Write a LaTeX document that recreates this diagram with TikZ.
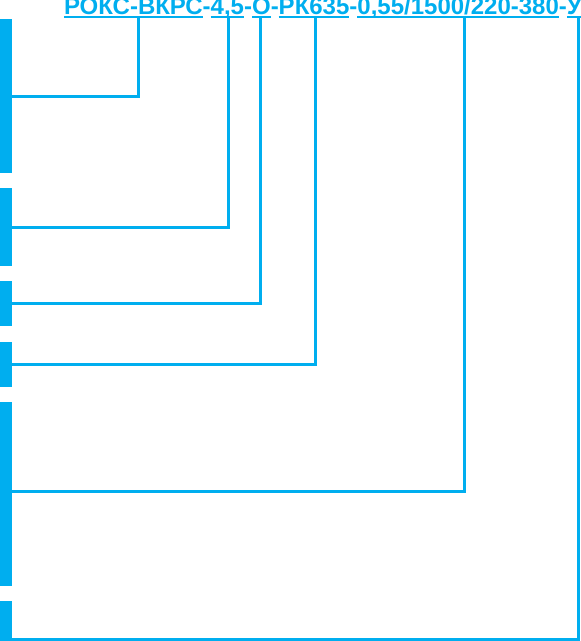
\documentclass[tikz,border=0pt]{standalone}
\usepackage{fontspec}
\setmainfont{Liberation Sans}
\definecolor{cy}{HTML}{00AEEF}
\begin{document}
\begin{tikzpicture}[x=1pt,y=-1pt,
  bar/.style={fill=cy,draw=none,minimum width=12pt,inner sep=0pt,outer sep=0pt,anchor=north west},
  txt/.style={text=cy,font=\fontsize{24}{25}\selectfont\bfseries,inner sep=0pt,outer sep=0pt,anchor=base west},
  ul/.style={draw=cy,line width=2pt},
  conn/.style={draw=cy,line width=3pt}]
\useasboundingbox (0,0) rectangle (581,641);
\clip (0,0) rectangle (581,641);
% bars
\node[bar,minimum height=154pt] (b1) at (0,19) {};
\node[bar,minimum height=78pt] (b2) at (0,188) {};
\node[bar,minimum height=45pt] (b3) at (0,281) {};
\node[bar,minimum height=45pt] (b4) at (0,342) {};
\node[bar,minimum height=184pt] (b5) at (0,402) {};
\node[bar,minimum height=45pt] (b6) at (0,601) {};
% text
\node[txt] (t1) at (64,14) {РОКС-ВКРС};
\node[txt] (d1) at (t1.base east) {-};
\node[txt] (t2) at (d1.base east) {4,5};
\node[txt] (d2) at (t2.base east) {-};
\node[txt] (t3) at (d2.base east) {О};
\node[txt] (d3) at (t3.base east) {-};
\node[txt] (t4) at (d3.base east) {РК635};
\node[txt] (d4) at (t4.base east) {-};
\node[txt] (t5) at (d4.base east) {0,55/1500/220-380};
\node[txt] (d5) at (t5.base east) {-};
\node[txt] (t6) at (d5.base east) {У};
\foreach \n in {t1,t2,t3,t4,t5,t6}
  \draw[ul] ([yshift=-3pt]\n.base west) -- ([yshift=-3pt]\n.base east);
% connector ends
\coordinate (c1) at (138,17);
\coordinate (c2) at (228,17);
\coordinate (c3) at (260.5,17);
\coordinate (c4) at (315.5,17);
\coordinate (c5) at (464,17);
\coordinate (c6) at (578,17);
\coordinate (e5) at (12,491);
\coordinate (e6) at (12,639);
\draw[conn] (c1) |- (b1.east);
\draw[conn] (c2) |- (b2.east);
\draw[conn] (c3) |- (b3.east);
\draw[conn] (c4) |- (b4.east);
\draw[conn] (c5) |- (e5);
\draw[conn] (c6) |- (e6);
\end{tikzpicture}
\end{document}
